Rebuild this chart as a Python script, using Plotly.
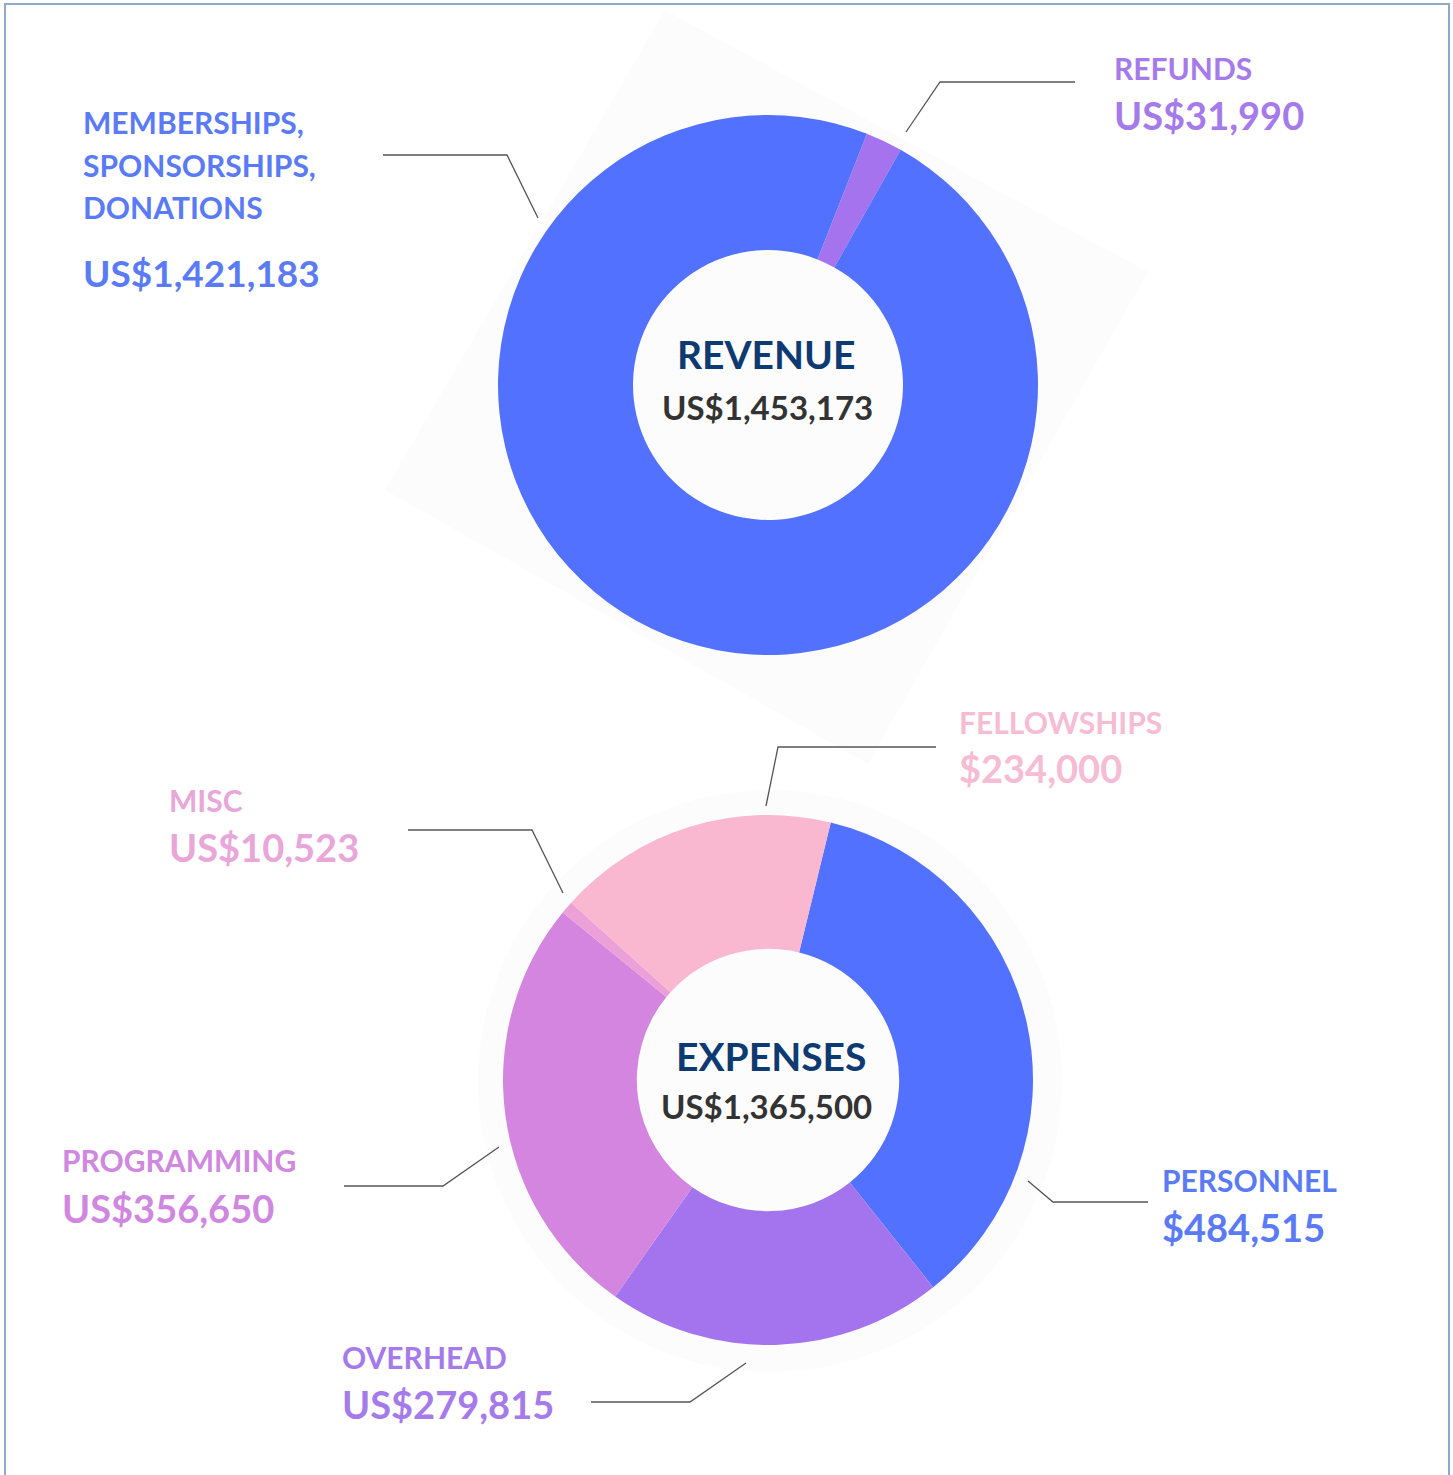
import plotly.graph_objects as go

W, H = 1453, 1475

# ---------------- data ----------------
rev_labels = ["REFUNDS", "MEMBERSHIPS, SPONSORSHIPS, DONATIONS"]
rev_values = [31990, 1421183]
rev_colors = ["#A673EE", "#5271FF"]
rev_total_text = "US$1,453,173"

exp_labels = ["PERSONNEL", "OVERHEAD", "PROGRAMMING", "MISC", "FELLOWSHIPS"]
exp_values = [484515, 279815, 356650, 10523, 234000]
exp_colors = ["#5271FF", "#A374EE", "#D385E0", "#EBA0D8", "#F9B8D0"]
exp_total_text = "US$1,365,500"

FONT = "Lato"

def dom(cx, cy, r):
    return dict(x=[(cx - r) / W, (cx + r) / W], y=[1 - (cy + r) / H, 1 - (cy - r) / H])

fig = go.Figure()

fig.add_trace(go.Pie(
    labels=rev_labels, values=rev_values, marker=dict(colors=rev_colors, line=dict(width=0)),
    hole=0.5, sort=False, direction="clockwise", rotation=21.5, textinfo="none",
    domain=dom(768, 385, 270), showlegend=False, hoverinfo="label+value",
))
fig.add_trace(go.Pie(
    labels=exp_labels, values=exp_values, marker=dict(colors=exp_colors, line=dict(width=0)),
    hole=0.495, sort=False, direction="clockwise", rotation=13.7, textinfo="none",
    domain=dom(768, 1080, 265), showlegend=False, hoverinfo="label+value",
))

shapes = []
# faint background decorations
shapes.append(dict(type="path", xref="x", yref="y",
                   path="M 665,10 L 1148,272 L 868,764 L 385,490 Z",
                   fillcolor="#FCFCFC", line=dict(width=0), layer="below"))
shapes.append(dict(type="circle", xref="x", yref="y", x0=478, x1=1062, y0=790, y1=1372,
                   fillcolor="#FCFCFC", line=dict(width=0), layer="below"))
# frame
shapes.append(dict(type="path", xref="x", yref="y",
                   path="M 5,1480 L 5,4 L 1449,4 L 1449,1480",
                   line=dict(color="#8FA8CC", width=2)))
# leader lines
leaders = [
    "M 383,155 L 507,155 L 538,218",
    "M 1075,82 L 940,82 L 906,132",
    "M 936,747 L 778,747 L 766,806",
    "M 408,830 L 532,830 L 563,893",
    "M 344,1186 L 443,1186 L 499,1147",
    "M 1148,1202 L 1053,1202 L 1028,1181",
    "M 591,1402 L 690,1402 L 746,1363",
]
for p in leaders:
    shapes.append(dict(type="path", xref="x", yref="y", path=p,
                       line=dict(color="#555555", width=1.3)))

ann = []
def txt(x, y, s, color, size, weight=700, xanchor="left"):
    ann.append(dict(x=x, y=y, xref="x", yref="y", text=s, showarrow=False,
                    xanchor=xanchor, yanchor="middle", align="left",
                    font=dict(family=FONT, size=size, color=color, weight=weight)))

BLUE_T = "#5A7AF6"
PURP_T = "#A57AEA"
PINK_T = "#F5BCD4"
MISC_T = "#E8A6D9"
PROG_T = "#CF87DF"

LS, VS = 30, 38
D = -3  # side-bearing correction

txt(84 + D, 122, "MEMBERSHIPS,", BLUE_T, LS)
txt(84 + D, 165, "SPONSORSHIPS,", BLUE_T, LS)
txt(84 + D, 207, "DONATIONS", BLUE_T, LS)
txt(84 + D, 272, "US$1,421,183", BLUE_T, 37)

txt(1115 + D, 68, "REFUNDS", PURP_T, LS)
txt(1115 + D, 115, "US$31,990", PURP_T, VS)

txt(960 + D, 722, "FELLOWSHIPS", PINK_T, LS)
txt(960 + D, 768, "$234,000", PINK_T, VS)

txt(170 + D, 800, "MISC", MISC_T, LS)
txt(170 + D, 847, "US$10,523", MISC_T, VS)

txt(63 + D, 1160, "PROGRAMMING", PROG_T, LS)
txt(63 + D, 1208, "US$356,650", PROG_T, VS)

txt(1163 + D, 1180, "PERSONNEL", BLUE_T, LS)
txt(1163 + D, 1227, "$484,515", BLUE_T, VS)

txt(343 + D, 1357, "OVERHEAD", PURP_T, LS)
txt(343 + D, 1404, "US$279,815", PURP_T, VS)

# centers
txt(766, 354, "REVENUE", "#0E3A72", 39, xanchor="center")
txt(767, 407, rev_total_text, "#333333", 33, xanchor="center")
txt(771, 1056, "EXPENSES", "#0E3A72", 39, xanchor="center")
txt(766, 1106, exp_total_text, "#333333", 33, xanchor="center")

fig.update_layout(
    width=W, height=H, margin=dict(l=0, r=0, t=0, b=0),
    paper_bgcolor="white", plot_bgcolor="rgba(0,0,0,0)",
    xaxis=dict(range=[0, W], visible=False, fixedrange=True, domain=[0, 1]),
    yaxis=dict(range=[H, 0], visible=False, fixedrange=True, domain=[0, 1]),
    shapes=shapes, annotations=ann, showlegend=False,
)

fig.write_html("out.html", config={"displayModeBar": False},
               post_script="document.body.style.margin='0';")
